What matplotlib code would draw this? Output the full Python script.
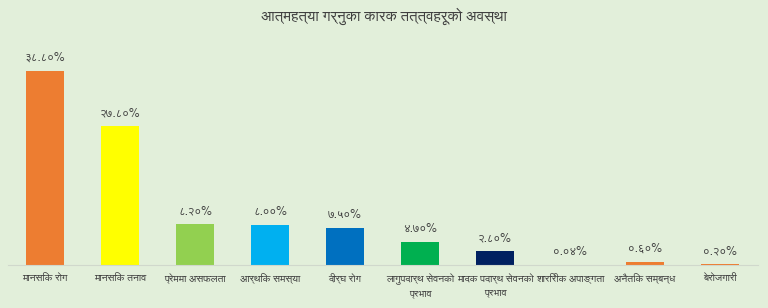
import matplotlib
matplotlib.use("Agg")
import matplotlib.pyplot as plt

categories = ["मानसिक रोग", "मानसिक तनाव", "प्रेममा असफलता", "आर्थिक समस्या", "दीर्घ रोग",
              "लागुपदार्थ सेवनको\nप्रभाव", "मादक पदार्थ सेवनको\nप्रभाव", "शारिरीक अपाङ्गता",
              "अनैतिक सम्बन्ध", "बेरोजगारी"]
values = [38.80, 27.80, 8.20, 8.00, 7.50, 4.70, 2.80, 0.04, 0.60, 0.20]
value_labels = ["३८.८०%", "२७.८०%", "८.२०%", "८.००%", "७.५०%", "४.७०%", "२.८०%", "०.०४%", "०.६०%", "०.२०%"]
colors = ["#ED7D31", "#FFFF00", "#92D050", "#00B0F0", "#0070C0", "#00B050", "#002060",
          "#F4B183", "#ED7D31", "#ED7D31"]
title = "आत्महत्या गर्नुका कारक तत्त्वहरूको अवस्था"

plt.rcParams['font.family'] = ["FreeSans", "DejaVu Sans"]

bg = "#E2EFDA"
fig = plt.figure(figsize=(7.68, 3.08), dpi=100, facecolor=bg)
ax = fig.add_axes([7.5 / 768, 43 / 308, 750 / 768, 225 / 308], facecolor=bg)

x = list(range(len(values)))
ax.bar(x, values, width=0.5, color=colors, zorder=2)
for xi, v, lab in zip(x, values, value_labels):
    ax.annotate(lab, (xi, v), xytext=(0, 5), textcoords="offset points",
                ha="center", va="bottom", fontsize=8.5, color="#404040")

ax.set_xlim(-0.5, len(values) - 0.5)
ax.set_ylim(0, 45)
ax.set_yticks([])
ax.set_xticks(x)
ax.set_xticklabels(categories, fontsize=7.5, color="#404040", linespacing=1.5)
ax.tick_params(axis="x", length=0, pad=6)
for s in ["top", "left", "right"]:
    ax.spines[s].set_visible(False)
ax.spines["bottom"].set_color("#D0D8CC")
ax.spines["bottom"].set_linewidth(0.8)

fig.text(0.5, 1 - 16 / 308, title, ha="center", va="center", fontsize=10.8, color="#404040")

fig.savefig("out.png", dpi=100, facecolor=bg)
